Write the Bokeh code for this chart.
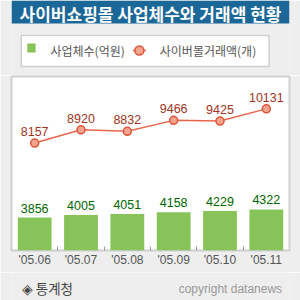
import numpy as np
from bokeh.plotting import figure
from bokeh.layouts import column
from bokeh.models import ColumnDataSource, LabelSet, FixedTicker, Range1d
from bokeh.core.properties import value
from bokeh.embed import file_html
from bokeh.resources import INLINE

# ---- data ----
months = ["'05.06", "'05.07", "'05.08", "'05.09", "'05.10", "'05.11"]
businesses = [3856, 4005, 4051, 4158, 4229, 4322]      # 사업체수(억원)
mall_trade = [8157, 8920, 8832, 9466, 9425, 10131]     # 사이버몰거래액(개)

title_text = "사이버쇼핑몰 사업체수와 거래액 현황"
legend_bar = "사업체수(억원)"
legend_line = "사이버몰거래액(개)"
source_text = "◈ 통계청"
copyright_text = "copyright datanews"

# ---- styles ----
KFONT = "Noto Sans CJK KR"
NFONT = "Liberation Sans"
BG = "#eeeeee"
TITLE_BG = "#1b6898"
BAR_COLOR = "#88c35a"
LINE_COLOR = "#e8664a"
MARK_FILL = "#f4a48e"
MARK_LINE = "#e0553a"
BAR_TEXT = "#006600"
LINE_TEXT = "#a0341c"
BOX_LINE = "#cfcfcf"
W = 300


def deco_fig(h):
    f = figure(width=W, height=h, x_range=Range1d(0, W), y_range=Range1d(h, 0),
               output_backend="svg", toolbar_location=None,
               x_axis_location=None, y_axis_location=None,
               min_border=0, min_border_left=0, min_border_right=0,
               min_border_top=0, min_border_bottom=0)
    f.grid.visible = False
    f.outline_line_color = None
    f.background_fill_color = BG
    f.border_fill_color = BG
    return f


# ---- header: title bar + legend ----
top = deco_fig(75)
top.quad(left=0, right=W, top=0, bottom=23, fill_color=TITLE_BG, line_color=None)
top.text(x=[150], y=[12.5], text=[title_text], text_align="center", text_baseline="middle",
         text_color="white", text_font=value(KFONT), text_font_size="17px",
         text_font_style="bold")
top.quad(left=10.5, right=278, top=35, bottom=66, fill_color="white",
         line_color=BOX_LINE, line_width=1.5)
top.quad(left=17, right=26, top=43, bottom=52, fill_color=BAR_COLOR, line_color=None)
top.text(x=[42], y=[50], text=[legend_bar], text_align="left", text_baseline="middle",
         text_color="#555555", text_font=value(KFONT), text_font_size="12px")
top.line(x=[131, 145], y=[50, 50], line_color=LINE_COLOR, line_width=1.5)
top.scatter(x=[138], y=[50], size=9, fill_color=MARK_FILL, line_color=MARK_LINE, line_width=1.5)
top.text(x=[160], y=[50], text=[legend_line], text_align="left", text_baseline="middle",
         text_color="#555555", text_font=value(KFONT), text_font_size="12px")

# ---- main chart ----
x = np.arange(len(months)) + 0.5
src = ColumnDataSource(dict(
    x=x, biz=businesses, mall=mall_trade,
    biz_s=[str(v) for v in businesses], mall_s=[str(v) for v in mall_trade],
))

p = figure(width=W, height=197, x_range=Range1d(0, len(months)),
           y_range=Range1d(1950, 12000), output_backend="svg",
           toolbar_location=None, y_axis_location=None,
           min_border_left=11, min_border_right=11,
           min_border_top=1, min_border_bottom=22)
p.border_fill_color = BG
p.background_fill_color = "white"
p.outline_line_color = BOX_LINE
p.outline_line_width = 2
p.grid.visible = False

ax = p.xaxis[0]
ax.ticker = FixedTicker(ticks=list(x), minor_ticks=list(np.arange(1, len(months))))
ax.major_label_overrides = {float(xi): m for xi, m in zip(x, months)}
ax.axis_line_color = None
ax.major_tick_line_color = None
ax.major_tick_in = 0
ax.major_tick_out = 0
ax.minor_tick_in = 4
ax.minor_tick_out = 0
ax.minor_tick_line_color = "#999999"
ax.major_label_standoff = 2
ax.major_label_text_font = NFONT
ax.major_label_text_font_size = "12px"
ax.major_label_text_color = "#555555"

p.vbar(x="x", top="biz", bottom=p.y_range.start, width=0.73, source=src,
       fill_color=BAR_COLOR, line_color=None)
p.line("x", "mall", source=src, line_color=LINE_COLOR, line_width=1.5)
p.scatter("x", "mall", source=src, size=8, fill_color=MARK_FILL,
          line_color=MARK_LINE, line_width=1.5)

p.add_layout(LabelSet(x="x", y="biz", text="biz_s", source=src, y_offset=5,
                      text_align="center", text_baseline="alphabetic",
                      text_color=BAR_TEXT, text_font=value(NFONT), text_font_size="12.5px"))
p.add_layout(LabelSet(x="x", y="mall", text="mall_s", source=src, y_offset=7,
                      text_align="center", text_baseline="alphabetic",
                      text_color=LINE_TEXT, text_font=value(NFONT), text_font_size="12.5px"))

# ---- footer ----
bot = deco_fig(28)
bot.text(x=[11], y=[15], text=[source_text], text_align="left", text_baseline="middle",
         text_color="#444444", text_font=value(KFONT), text_font_size="13.5px")
bot.text(x=[292], y=[16], text=[copyright_text], text_align="right", text_baseline="middle",
         text_color="#999999", text_font=value(NFONT), text_font_size="12px")

layout = column(top, p, bot, spacing=0)
open("out.html", "w").write(file_html(layout, INLINE))
